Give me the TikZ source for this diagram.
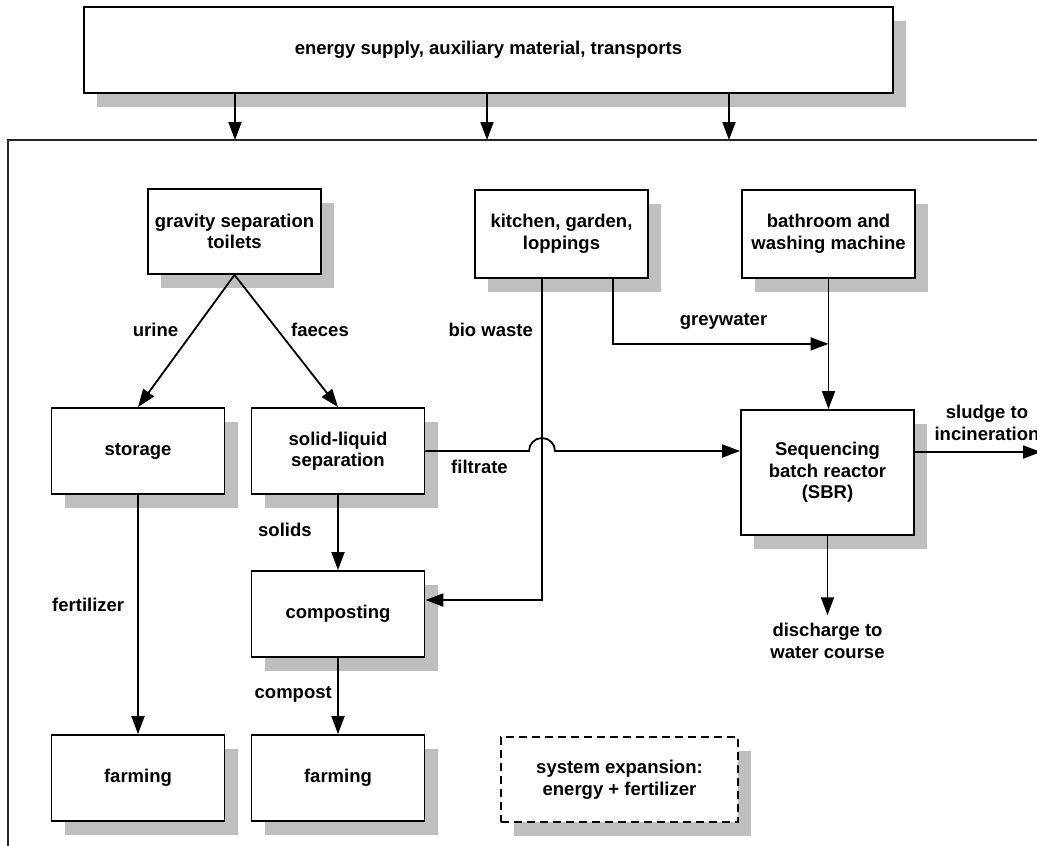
\documentclass[tikz,border=0pt]{standalone}
\usepackage{fontspec}
\setmainfont{Liberation Sans}
\usetikzlibrary{arrows.meta, shadows, positioning}

\begin{document}
\begin{tikzpicture}[
      x=1pt, y=-1pt,
      >={Triangle[length=18pt, width=13pt]},
      font=\fontsize{18.5}{21.5}\selectfont\bfseries,
      proc/.style={draw, line width=1.8pt, fill=white, align=center, inner sep=0pt,
        minimum width=173pt, minimum height=86pt,
        drop shadow={shadow xshift=13pt, shadow yshift=-14pt, fill=black!25, opacity=1}},
      flow/.style={line width=1.8pt, ->},
      lbl/.style={align=center, inner sep=0pt}
    ]
    \useasboundingbox (0,0) rectangle (1037,846);

    % System boundary (cut off at right and bottom)
    \draw[line width=1.8pt, black!85] (8,870) -- (8,140) -- (1060,140);

    % Supply box and its inputs
    \node[proc, minimum width=809pt] (supply) at (488.5,50) {energy supply, auxiliary material, transports};
    \foreach \xx [count=\i] in {235,487,729} {
      \coordinate (in\i) at (\xx,140);
      \draw[flow] (supply.south -| in\i) -- (in\i);
    }

    % Sources
    \node[proc, minimum height=85pt] (toilet) at (234.5,231.5) {gravity separation\\toilets};
    \node[proc, minimum height=88pt] (kitchen) at (561.5,234) {kitchen, garden,\\loppings};
    \node[proc, minimum height=88pt] (bath) at (828.5,234) {bathroom and\\washing machine};

    % Treatment
    \node[proc] (storage) at (138,451) {storage};
    \node[proc] (sepa) at (338,451) {solid-liquid\\separation};
    \node[proc] (compo) at (338,614) {composting};
    \node[proc, minimum height=125pt] (sbr) at (827.5,472.5) {Sequencing\\batch reactor\\(SBR)};

    % Use
    \node[proc] (farm1) at (138,778) {farming};
    \node[proc] (farm2) at (338,778) {farming};
    \node[proc, minimum width=237pt, minimum height=85pt, dashed, dash pattern=on 8pt off 5pt] (expan) at (619.5,779.5) {system expansion:\\energy + fertilizer};

    % Flows
    \draw[flow] (toilet.south) -- (storage.north);
    \draw[flow] (toilet.south) -- (sepa.north);
    \draw[flow] (storage) -- (farm1);
    \draw[flow] (sepa) -- (compo);
    \draw[flow] (compo) -- (farm2);

    \coordinate (bio) at ([xshift=-19.5pt]kitchen.south);
    \coordinate (hop) at (sepa.east -| bio);
    \draw[flow] (bio) |- ([yshift=14pt]compo.east);
    \draw[flow] (sepa.east) -- ([xshift=-13pt]hop) arc[start angle=180, end angle=0, radius=13pt] -- (sbr.west |- sepa.east);

    \path (bath.south) ++(0,65) coordinate (join);
    \draw[flow] ([xshift=51.5pt]kitchen.south) |- (join);
    \draw[flow] (bath.south) -- (bath.south |- sbr.north);

    \coordinate (out) at (1041,452);
    \draw[flow] (sbr.east |- out) -- (out);
    \node[lbl, inner ysep=8pt] (disch) at (827.5,641) {discharge to\\water course};
    \draw[flow] (sbr.south) -- (disch.north);

    % Flow labels
    \node[lbl] (urine) at (155.5,330) {urine};
    \node[lbl] (faeces) at (320,330) {faeces};
    \node[lbl, anchor=east] (biol) at (533,330) {bio waste};
    \node[lbl] (grey) at (723.5,321) {greywater};
    \node[lbl, anchor=west] (filt) at (451,467) {filtrate};
    \node[lbl, anchor=west] (solid) at (258,530) {solids};
    \node[lbl, anchor=west] (fert) at (52,605) {fertilizer};
    \node[lbl, anchor=east] (compl) at (332,694) {compost};
    \node[lbl] (sludge) at (987,423) {sludge to\\incineration};
  \end{tikzpicture}
\end{document}
